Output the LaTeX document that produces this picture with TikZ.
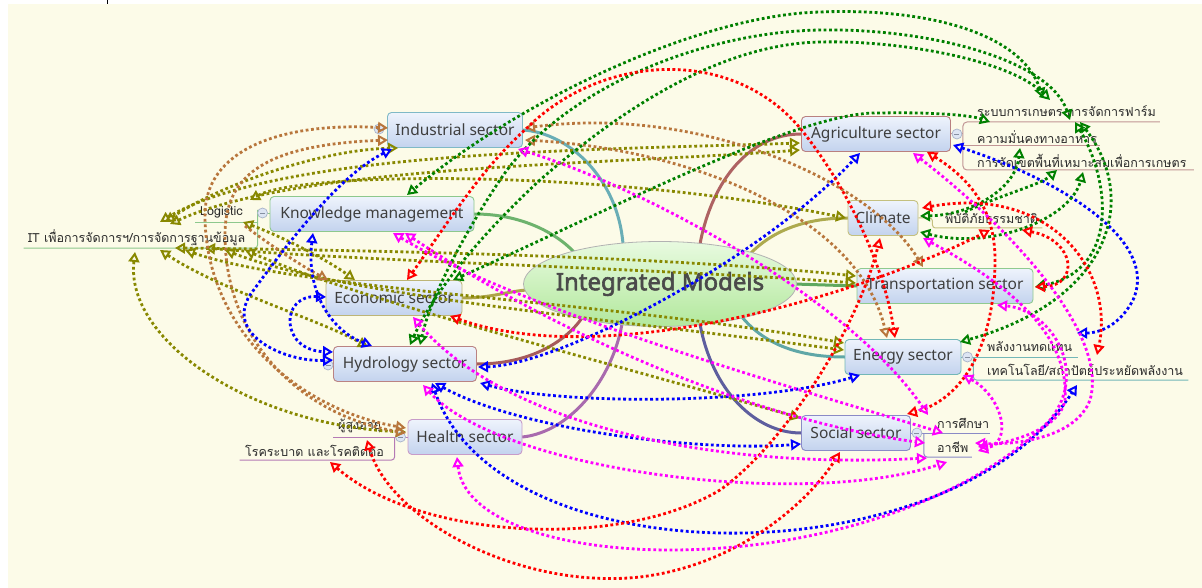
\documentclass[tikz,border=0pt]{standalone}
\usepackage{fontspec}
\setmainfont{Noto Sans}
\newfontfamily\titlefont[FakeBold=2.4]{Noto Sans}
\newfontfamily\thaifont[Script=Thai]{Loma}
\usetikzlibrary{arrows.meta,shapes.geometric,calc}
\pgfdeclarelayer{back}
\pgfsetlayers{back,main}

\definecolor{bgc}{HTML}{FCFBE8}
\definecolor{cText}{HTML}{3E3E3E}
\definecolor{cTitle}{HTML}{4A4A4A}
\definecolor{cSub}{HTML}{2A2A2A}
% relationship colours
\definecolor{cOlive}{HTML}{888800}
\definecolor{cBrown}{HTML}{B8763C}
\definecolor{cBlue}{HTML}{0000FF}
\definecolor{cGreen}{HTML}{008000}
\definecolor{cRed}{HTML}{FF0000}
\definecolor{cMag}{HTML}{FF00FF}
% branch colours
\definecolor{brInd}{HTML}{69AEB6}
\definecolor{brKM}{HTML}{6DB36D}
\definecolor{brEco}{HTML}{ADA44A}
\definecolor{brHyd}{HTML}{A65B5B}
\definecolor{brHea}{HTML}{A96AAE}
\definecolor{brAgr}{HTML}{AE6262}
\definecolor{brCli}{HTML}{ADAA4E}
\definecolor{brTra}{HTML}{5FA85F}
\definecolor{brEne}{HTML}{5FA7A7}
\definecolor{brSoc}{HTML}{5E5E9E}
% box borders
\definecolor{bdInd}{HTML}{7FB9C6}
\definecolor{bdKM}{HTML}{8DC88D}
\definecolor{bdEco}{HTML}{BDB577}
\definecolor{bdHyd}{HTML}{BA8383}
\definecolor{bdHea}{HTML}{C79BC9}
\definecolor{bdAgr}{HTML}{B98080}
\definecolor{bdCli}{HTML}{C4C07F}
\definecolor{bdTra}{HTML}{8FCA8F}
\definecolor{bdEne}{HTML}{73B7B7}
\definecolor{bdSoc}{HTML}{8A8AC6}
\definecolor{lnHea}{HTML}{B57AB5}
\definecolor{lnAgr}{HTML}{C19595}
\definecolor{boxTop}{HTML}{EEF3FC}
\definecolor{boxBot}{HTML}{C3D3EE}
\definecolor{btnFill}{HTML}{DDE5F3}
\definecolor{btnDraw}{HTML}{A8B3C9}
\definecolor{ellTop}{HTML}{E8FAE0}
\definecolor{ellBot}{HTML}{B2E89C}

\newcommand{\secfnt}{\fontsize{15.5}{18}\selectfont}
\newcommand{\subfnt}{\thaifont\fontsize{12.5}{14}\selectfont}

\tikzset{
  sector/.style={draw, rounded corners=4pt, line width=0.9pt, top color=boxTop,
    bottom color=boxBot, text=cText, font=\secfnt, inner sep=0pt, minimum height=35pt},
  subtxt/.style={inner sep=0pt, anchor=west, font=\subfnt, text=cSub},
  branch/.style={line width=3pt, line cap=round},
  subline/.style={line width=1pt},
  btn/.style={circle, draw=btnDraw, fill=btnFill, line width=0.7pt, minimum size=10pt, inner sep=0pt,
    path picture={\draw[btnDraw!80!black, line width=0.8pt]
      ([xshift=-2.5pt]path picture bounding box.center) -- ([xshift=2.5pt]path picture bounding box.center);}},
  rel/.style={line width=2.8pt, dash pattern=on 2.8pt off 2.6pt, line cap=butt},
  olvrel/.style={rel, draw=cOlive},
  brnrel/.style={rel, draw=cBrown},
  blurel/.style={rel, draw=cBlue},
  grnrel/.style={rel, draw=cGreen},
  redrel/.style={rel, draw=cRed},
  magrel/.style={rel, draw=cMag},
}

\begin{document}
\begin{tikzpicture}[x=1pt, y=-1pt, >={Triangle[open,length=10pt,width=11pt,line width=2pt]}]
\useasboundingbox (0,0) rectangle (1202,588);

% central topic: ellipse and its title
\node[ellipse, draw=gray!60, line width=0.8pt, top color=ellTop, bottom color=ellBot,
  minimum width=273pt, minimum height=85pt, inner sep=0pt] (im) at (660,284) {};
\node[inner sep=0pt, text=cTitle, font=\titlefont\fontsize{24}{28}\selectfont] (imt) at (im.center) {Integrated Models};

% main sectors
\node[sector, draw=bdInd, minimum width=135pt] (ind) at (455,130) {Industrial sector};
\node[sector, draw=bdKM,  minimum width=204pt] (km)  at (372,214) {Knowledge management};
\node[sector, draw=bdEco, minimum width=136pt] (eco) at (394,298) {Economic sector};
\node[sector, draw=bdHyd, minimum width=143pt] (hyd) at (405,364) {Hydrology sector};
\node[sector, draw=bdHea, minimum width=114pt] (hea) at (465,437) {Health sector};
\node[sector, draw=bdAgr, minimum width=149pt] (agr) at (876,134) {Agriculture sector};
\node[sector, draw=bdCli, minimum width=70pt]  (cli) at (883,218) {Climate};
\node[sector, draw=bdTra, minimum width=176pt] (tra) at (945,286) {Transportation sector};
\node[sector, draw=bdEne, minimum width=116pt] (ene) at (903,357) {Energy sector};
\node[sector, draw=bdSoc, minimum width=109pt] (soc) at (856,433) {Social sector};

% sub-topics
\node[subtxt] (logi)  at (200,212) {Logistic};
\node[subtxt] (itdb)  at (28,238)  {IT เพื่อการจัดการฯ/การจัดการฐานข้อมูล};
\node[subtxt] (old)   at (338,426) {ผู้สูงอายุ};
\node[subtxt] (epi)   at (245,451) {โรคระบาด และโรคติดต่อ};
\node[subtxt] (farm)  at (977,111) {ระบบการเกษตร การจัดการฟาร์ม};
\node[subtxt] (food)  at (977,137) {ความมั่นคงทางอาหาร};
\node[subtxt] (zone)  at (977,161) {การจัดเขตพื้นที่เหมาะสมเพื่อการเกษตร};
\node[subtxt] (disa)  at (945,219) {พิบัติภัยธรรมชาติ};
\node[subtxt] (renew) at (987,347) {พลังงานทดแทน};
\node[subtxt] (tech)  at (987,370) {เทคโนโลยี/สถาปัตย์ประหยัดพลังงาน};
\node[subtxt] (edu)   at (937,423) {การศึกษา};
\node[subtxt] (job)   at (937,447) {อาชีพ};

\begin{pgfonlayer}{back}
  \fill[white] (0,0) rectangle (1202,588);
  \fill[bgc] (8,4) rectangle (1202,588);
  \draw[black, line width=1pt] (107,0) -- (107,4);

  % branches from the central topic
  \draw[branch, draw=brInd] (ind.east) .. controls (570,133) and (618,180) .. ($(im)+(-37,-40)$);
  \draw[branch, draw=brKM]  (km.east) .. controls (520,214) and (555,232) .. ($(im)+(-86,-32)$);
  \draw[branch, draw=brEco] (eco.east) .. controls (490,298) and (505,292) .. ($(im)+(-134,6)$);
  \draw[branch, draw=brHyd] (hyd.east) .. controls (530,364) and (565,342) .. ($(im)+(-78,34)$);
  \draw[branch, draw=brHea] (hea.east) .. controls (570,432) and (612,380) .. ($(im)+(-38,40)$);
  \draw[branch, draw=brAgr] ($(im)+(40,-40)$) .. controls (712,180) and (750,134) .. (agr.west);
  \draw[branch, draw=brCli] ($(im)+(90,-30)$) .. controls (775,228) and (810,218) .. (cli.west);
  \draw[branch, draw=brTra] ($(im)+(134,0)$) -- (tra.west);
  \draw[branch, draw=brEne] ($(im)+(82,33)$) .. controls (765,345) and (800,357) .. (ene.west);
  \draw[branch, draw=brSoc] ($(im)+(40,40)$) .. controls (712,390) and (755,433) .. (soc.west);

  % sub-topic brackets and underlines
  \draw[subline, draw=bdKM] (km.west) -- ++(-12,0);
  \draw[subline, draw=bdKM, rounded corners=3pt] ($(km.west)+(-12,-4)$) -- ($(km.west)+(-12,34)$) -- ($(km.west)+(-246,34)$);
  \draw[subline, draw=bdKM] ($(km.west)+(-12,9)$) -- ($(km.west)+(-75,9)$);

  \draw[subline, draw=lnHea] (hea.west) -- ($(hea.west)+(-75,0)$);
  \draw[subline, draw=lnHea, rounded corners=3pt] ($(hea.west)+(-13,0)$) -- ($(hea.west)+(-13,23)$) -- ($(hea.west)+(-168,23)$);

  \draw[subline, draw=lnAgr] (agr.east) -- ++(12,0);
  \draw[subline, draw=lnAgr, rounded corners=4pt] ($(agr.east)+(209,-12)$) -- ($(agr.east)+(12,-12)$) -- ($(agr.east)+(12,36)$) -- ($(agr.east)+(243,36)$);
  \draw[subline, draw=lnAgr] ($(agr.east)+(12,12)$) -- ($(agr.east)+(149,12)$);

  \draw[subline, draw=bdCli, rounded corners=3pt] (cli.east) -- ($(cli.east)+(14,0)$) -- ($(cli.east)+(14,10)$) -- ($(cli.east)+(124,10)$);

  \draw[subline, draw=bdEne] (ene.east) -- ($(ene.east)+(117,0)$);
  \draw[subline, draw=bdEne, rounded corners=3pt] ($(ene.east)+(12,0)$) -- ($(ene.east)+(12,23)$) -- ($(ene.east)+(227,23)$);

  \draw[subline, draw=bdSoc] (soc.east) -- ($(soc.east)+(79,0)$);
  \draw[subline, draw=bdSoc, rounded corners=3pt] ($(soc.east)+(13,0)$) -- ($(soc.east)+(13,24)$) -- ($(soc.east)+(61,24)$);
\end{pgfonlayer}

% collapse buttons
\node[btn] (bkm)  at ($(km.west)+(-7,-1)$) {};
\node[btn] (bhea) at ($(hea.west)+(-7,0)$) {};
\node[btn] (bagr) at ($(agr.east)+(6,0)$) {};
\node[btn] (bene) at ($(ene.east)+(6,0)$) {};
\node[btn] (bsoc) at ($(soc.east)+(6,0)$) {};
\node[btn] (bind) at ($(ind.west)+(-8,-1)$) {};
\node[btn] (bhyd) at ($(hyd.west)+(-5,1)$) {};

% ---- relationships: knowledge management (olive)
\draw[olvrel,<->] ($(itdb.west)+(137,-16)$) .. controls (220,185) and (320,150) .. ($(ind)+(-57,18)$);
\draw[olvrel,<->] ($(itdb.west)+(132,-16)$) .. controls (280,150) and (600,150) .. ($(agr)+(-76,9)$);
\draw[olvrel,<->] ($(itdb.west)+(142,-14)$) .. controls (300,165) and (600,165) .. ($(agr)+(-76,16)$);
\draw[olvrel,<->] ($(logi.west)+(50,-12)$) .. controls (300,172) and (600,168) .. ($(cli)+(-37,0)$);
\draw[olvrel,<->] ($(itdb.west)+(147,10)$) .. controls (350,250) and (650,255) .. ($(tra)+(-89,-10)$);
\draw[olvrel,<->] ($(itdb.west)+(177,10)$) .. controls (380,262) and (650,268) .. ($(tra)+(-89,-3)$);
\draw[olvrel,<->] ($(logi.west)+(43,10)$) .. controls (290,240) and (330,262) .. ($(eco)+(-39,-18)$);
\draw[olvrel,<->] ($(itdb.west)+(132,12)$) .. controls (220,290) and (320,320) .. ($(hyd)+(-37,-17)$);
\draw[olvrel,<->] ($(itdb.west)+(107,14)$) .. controls (125,340) and (250,425) .. ($(hea)+(-59,-5)$);
\draw[olvrel,<->] ($(itdb.west)+(157,12)$) .. controls (300,290) and (600,300) .. ($(ene)+(-59,-14)$);
\draw[olvrel,<->] ($(itdb.west)+(197,12)$) .. controls (340,295) and (600,318) .. ($(ene)+(-59,-7)$);
\draw[olvrel,<->] ($(itdb.west)+(217,12)$) .. controls (360,300) and (600,360) .. ($(soc)+(-56,-15)$);

% ---- industrial (brown)
\draw[brnrel,<->] ($(ind)+(-67,-2)$) .. controls (280,122) and (205,150) .. (205,215) .. controls (205,330) and (300,410) .. ($(hea)+(-59,-9)$);
\draw[brnrel,<->] ($(ind)+(-67,10)$) .. controls (265,145) and (225,175) .. (225,235) .. controls (225,340) and (300,415) .. ($(hea)+(-59,-4)$);
\draw[brnrel,->] ($(logi.west)+(45,14)$) .. controls (270,245) and (300,265) .. ($(eco)+(-66,-18)$);
\draw[brnrel,<->] ($(ind)+(70,-2)$) .. controls (700,105) and (870,180) .. ($(tra)+(-22,-19)$);
\draw[brnrel,<->] ($(ind)+(70,10)$) .. controls (700,150) and (860,220) .. ($(ene)+(-16,-19)$);

% ---- hydrology (blue)
\draw[blurel,<->] ($(ind)+(-63,19)$) .. controls (340,175) and (290,240) .. (250,295) .. controls (225,335) and (285,362) .. ($(hyd)+(-72,-4)$);
\draw[blurel,<->] ($(km)+(-59,19)$) .. controls (306,290) and (330,330) .. ($(hyd)+(-33,-18)$);
\draw[blurel,<->] ($(eco)+(-68,-1)$) .. controls (280,295) and (280,350) .. ($(hyd)+(-72,-12)$);
\draw[blurel,<->] ($(hyd)+(73,3)$) .. controls (560,365) and (760,260) .. ($(agr)+(-16,19)$);
\draw[blurel,<->] ($(agr)+(77,11)$) .. controls (1060,180) and (1160,240) .. (1133,300) .. controls (1120,325) and (1100,333) .. ($(renew.west)+(90,-14)$);
\draw[blurel,<->] ($(hyd)+(75,19)$) .. controls (560,405) and (760,405) .. ($(ene)+(-43,18)$);
\draw[blurel,<->] ($(hyd)+(30,19)$) .. controls (520,430) and (700,452) .. ($(soc)+(-55,11)$);
\draw[blurel,<->] ($(hyd)+(27,19)$) .. controls (500,580) and (950,580) .. ($(tech.west)+(90,15)$);

% ---- agriculture (green)
\draw[grnrel,<->] ($(farm.west)+(66,-13)$) .. controls (1020,30) and (920,8) .. (820,12) .. controls (700,15) and (520,100) .. ($(km)+(35,-19)$);
\draw[grnrel,<->] ($(farm.west)+(93,9)$) .. controls (1050,60) and (930,28) .. (820,30) .. controls (700,32) and (560,90) .. (500,180) .. controls (460,240) and (430,300) .. ($(hyd)+(15,-19)$);
\draw[grnrel,<->] ($(farm.west)+(73,-11)$) .. controls (1010,60) and (900,40) .. (820,42) .. controls (720,44) and (620,110) .. (540,180) .. controls (470,245) and (430,300) .. ($(hyd)+(5,-19)$);
\draw[grnrel,<->] ($(eco)+(59,-18)$) .. controls (600,215) and (800,110) .. (880,113) .. controls (930,112) and (970,115) .. ($(farm.west)+(13,11)$);
\draw[grnrel,<->] ($(cli)+(37,-2)$) .. controls (970,215) and (1015,190) .. ($(food.west)+(43,11)$);
\draw[grnrel,<->] ($(cli)+(37,14)$) .. controls (990,250) and (1070,220) .. ($(zone.west)+(106,11)$);
\draw[grnrel,->] ($(disa.west)+(20,-7)$) .. controls (1000,195) and (1040,185) .. ($(zone.west)+(80,9)$);
\draw[grnrel,<->] ($(farm.west)+(98,11)$) .. controls (1110,180) and (1120,270) .. ($(tra)+(90,1)$);
\draw[grnrel,<->] ($(farm.west)+(103,11)$) .. controls (1140,200) and (1110,300) .. ($(ene)+(57,-15)$);

% ---- climate (red)
\draw[redrel,<->] ($(eco)+(13,-18)$) .. controls (450,220) and (480,170) .. (527,128) .. controls (600,55) and (730,45) .. (800,128) .. controls (850,190) and (885,270) .. ($(ene)+(-8,-19)$);
\draw[redrel,<->] ($(eco)+(56,18)$) .. controls (600,370) and (850,300) .. ($(disa.west)+(45,11)$);
\draw[redrel,<->] ($(cli)+(39,-10)$) .. controls (1050,185) and (1115,270) .. ($(renew.west)+(110,8)$);
\draw[redrel,<->] ($(agr)+(51,18)$) .. controls (980,185) and (995,220) .. (995,260) .. controls (995,350) and (960,400) .. ($(soc)+(51,-19)$);
\draw[redrel,<->] ($(disa.west)+(77,11)$) .. controls (1075,240) and (1080,285) .. ($(tra)+(90,1)$);
\draw[redrel,<->] ($(epi.west)+(85,11)$) .. controls (420,540) and (620,550) .. (720,490) .. controls (790,440) and (860,320) .. ($(cli)+(-3,20)$);
\draw[redrel,<->] ($(old.west)+(29,14)$) .. controls (390,520) and (520,590) .. (640,577) .. controls (740,565) and (810,500) .. ($(soc)+(-16,19)$);

% ---- social (magenta)
\draw[magrel,<->] ($(ind)+(63,19)$) .. controls (650,190) and (850,300) .. ($(edu.west)+(-9,-8)$);
\draw[magrel,<->] ($(km)+(21,19)$) .. controls (520,310) and (800,390) .. ($(edu.west)+(6,10)$);
\draw[magrel,<->] ($(km)+(33,19)$) .. controls (550,330) and (750,420) .. ($(job.west)+(-12,-4)$);
\draw[magrel,<->] ($(eco)+(19,19)$) .. controls (500,420) and (700,470) .. ($(job.west)+(-10,11)$);
\draw[magrel,<->] ($(hyd)+(18,21)$) .. controls (500,470) and (800,510) .. ($(job.west)+(10,15)$);
\draw[magrel,<->] ($(agr)+(37,19)$) .. controls (1000,220) and (1110,330) .. (1090,400) .. controls (1075,440) and (1010,445) .. ($(job.west)+(38,-4)$);
\draw[magrel,<->] ($(cli)+(40,20)$) .. controls (1000,280) and (1070,330) .. (1065,400) .. controls (1060,430) and (1010,442) .. ($(job.west)+(41,0)$);
\draw[magrel,<->] ($(ene)+(60,18)$) .. controls (1000,395) and (1015,440) .. ($(job.west)+(41,4)$);
\draw[magrel,<->] ($(hea)+(-8,20)$) .. controls (470,580) and (880,590) .. (1050,420) .. controls (1090,370) and (1050,310) .. ($(tra)+(52,19)$);
\end{tikzpicture}
\end{document}
